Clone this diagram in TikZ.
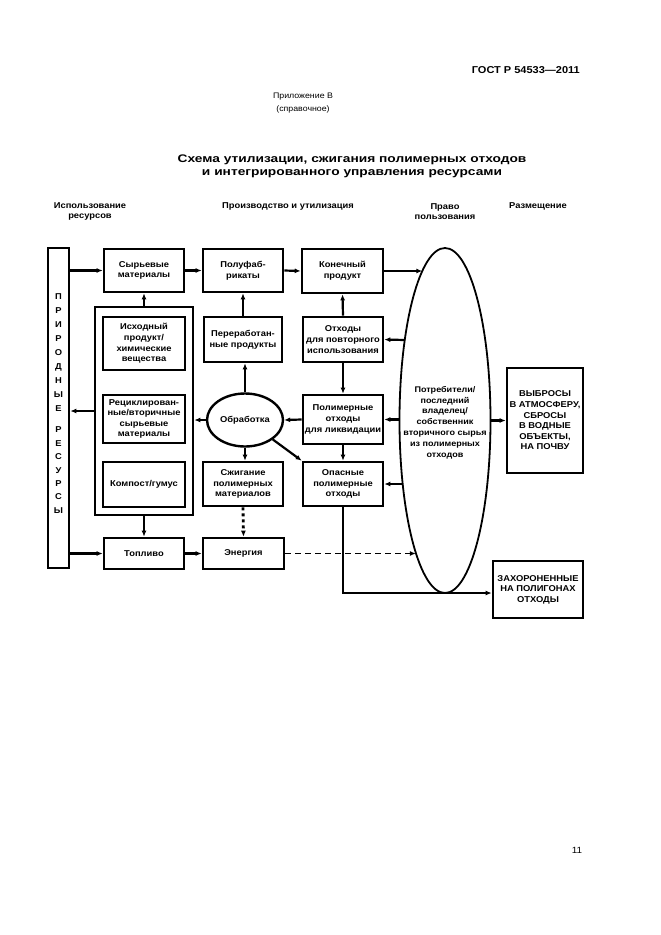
\documentclass[tikz,border=0pt]{standalone}
\usepackage{fontspec}
\setmainfont{Liberation Sans}[FakeStretch=1.1]
\newfontfamily\titlefont{Liberation Sans}[FakeStretch=1.25]
\usetikzlibrary{arrows.meta,shapes.geometric,calc}
\begin{document}
\begin{tikzpicture}[x=1pt,y=-1pt,
  box/.style={draw,line width=2.6pt,rectangle,inner sep=0pt,align=center,
    font=\bfseries\fontsize{8.5}{10.6}\selectfont},
  bigtxt/.style={align=center,inner sep=0pt,font=\bfseries\fontsize{8.2}{10.8}\selectfont},
  head/.style={align=center,inner sep=0pt,font=\bfseries\fontsize{8.5}{10.5}\selectfont},
  letter/.style={inner sep=0pt,font=\bfseries\fontsize{8.5}{10}\selectfont},
  arr/.style={line width=2.2pt,-{Latex[length=6pt,width=5pt]}},
]
\useasboundingbox[fill=white] (0,0) rectangle (661,935);

% header texts
\node[anchor=east,inner sep=0pt,font=\bfseries\fontsize{10}{12}\selectfont] (gost) at (580,70) {ГОСТ Р 54533—2011};
\node[align=center,inner sep=0pt,font=\fontsize{8}{13}\selectfont] (pril) at (303,103.5) {Приложение В\\(справочное)};
\node[align=center,inner sep=0pt,font=\titlefont\bfseries\fontsize{11}{13}\selectfont] (title) at (352,166.5) {Схема утилизации, сжигания полимерных отходов\\и интегрированного управления ресурсами};
\node[head] (h1) at (90,211.5) {Использование\\ресурсов};
\node[head] (h2) at (288,206) {Производство и утилизация};
\node[head] (h3) at (445,211.5) {Право\\пользования};
\node[head] (h4) at (538,206) {Размещение};
\node[inner sep=0pt,font=\fontsize{9}{10}\selectfont] (pg) at (577,850) {11};

% left tall box
\node[draw,line width=2.6pt,rectangle,minimum width=21pt,minimum height=320pt,inner sep=0pt] (pr) at (58.5,408) {};
\foreach \ch [count=\i from 0] in {П,Р,И,Р,О,Д,Н,Ы,Е}
  \node[letter] (pa\i) at (58.5,297+14*\i) {\ch};
\foreach \ch [count=\i from 0] in {Р,Е,С,У,Р,С,Ы}
  \node[letter] (pb\i) at (58.5,430+13.4*\i) {\ch};

% top row
\node[box,minimum width=80pt,minimum height=43pt] (syr) at (144,270.5) {Сырьевые\\материалы};
\node[box,minimum width=80pt,minimum height=43pt] (pf) at (243,270.5) {Полуфаб-\\рикаты};
\node[box,minimum width=81pt,minimum height=44pt] (kon) at (342.5,271) {Конечный\\продукт};

% group box
\node[draw,line width=2.6pt,rectangle,minimum width=98pt,minimum height=208pt,inner sep=0pt] (grp) at (144,411) {};
\node[box,minimum width=82pt,minimum height=53pt] (ish) at (144,343.5) {Исходный\\продукт/\\химические\\вещества};
\node[box,minimum width=82pt,minimum height=48pt] (rec) at (144,419) {Рециклирован-\\ные/вторичные\\сырьевые\\материалы};
\node[box,minimum width=82pt,minimum height=45pt] (komp) at (144,484.5) {Компост/гумус};

% middle column
\node[box,minimum width=78pt,minimum height=45pt] (per) at (243,339.5) {Переработан-\\ные продукты};
\node[draw,ellipse,line width=2.4pt,minimum width=76pt,minimum height=53pt,inner sep=0pt,
  font=\bfseries\fontsize{8.5}{10.5}\selectfont] (obr) at (245,420) {Обработка};
\node[box,minimum width=80pt,minimum height=44pt] (szh) at (243,484) {Сжигание\\полимерных\\материалов};
\node[box,minimum width=80pt,minimum height=31pt] (top) at (144,553.5) {Топливо};
\node[box,minimum width=81pt,minimum height=31pt] (en) at (243.5,553.5) {Энергия};

% right middle column
\node[box,minimum width=80pt,minimum height=45pt] (otp) at (343,339.5) {Отходы\\для повторного\\использования};
\node[box,minimum width=80pt,minimum height=49pt] (pol) at (343,419.5) {Полимерные\\отходы\\для ликвидации};
\node[box,minimum width=80pt,minimum height=44pt] (op) at (343,484) {Опасные\\полимерные\\отходы};

% big ellipse
\node[draw,ellipse,line width=1.8pt,minimum width=91pt,minimum height=345pt,inner sep=0pt] (big) at (445,420.5) {};
\node[bigtxt] (bigt) at (445,422.5) {Потребители/\\последний\\владелец/\\собственник\\вторичного сырья\\из полимерных\\отходов};
\coordinate (e271) at (422.3,271);
\coordinate (e340) at (404.8,340);
\coordinate (e419) at (399.5,419.5);
\coordinate (eR) at (490.5,420.5);
\coordinate (e484) at (402.7,484);
\coordinate (e553) at (415.9,553.5);

% right boxes
\node[box,minimum width=76pt,minimum height=105pt] (vyb) at (545,420.5) {ВЫБРОСЫ\\В АТМОСФЕРУ,\\СБРОСЫ\\В ВОДНЫЕ\\ОБЪЕКТЫ,\\НА ПОЧВУ};
\node[box,minimum width=90pt,minimum height=57pt] (zah) at (538,589.5) {ЗАХОРОНЕННЫЕ\\НА ПОЛИГОНАХ\\ОТХОДЫ};

% connectors
\draw[arr] (pr.east |- syr.west) -- (syr.west);
\draw[arr] (syr.east) -- (pf.west);
\draw[arr] (pf.east) -- (kon.west);
\draw[arr] (kon.east) -- (e271);
\draw[arr] (grp.north) -- (syr.south);
\draw[arr] (grp.west) -- (grp.west -| pr.east);
\draw[arr] (grp.south) -- (top.north);
\draw[arr] (pr.east |- top.west) -- (top.west);
\draw[arr] (top.east) -- (en.west);
\draw[arr,dash pattern=on 6pt off 4pt,line width=1.6pt] (en.east) -- (e553);
\draw[arr,dash pattern=on 3pt off 3pt,line width=2.8pt] (szh.south) -- (en.north);
\draw[arr] (obr.south) -- (obr.south |- szh.north);
\draw[arr] (obr.north) -- (obr.north |- per.south);
\draw[arr] (per.north) -- (pf.south);
\draw[arr] (obr.west) -- (obr.west -| grp.east);
\draw[arr] (pol.west) -- (obr.east);
\draw[arr] (otp.north) -- (kon.south);
\draw[arr] (otp.south) -- (pol.north);
\draw[arr] (pol.south) -- (op.north);
\draw[arr] (obr.-35) -- (op.north west);
\draw[arr] (e340) -- (otp.east);
\draw[arr] (e419) -- (pol.east);
\draw[arr] (e484) -- (op.east);
\draw[arr] (eR) -- (vyb.west);
\draw[arr] (op.south) |- ([yshift=-3.5pt]zah.west);
\end{tikzpicture}
\end{document}
